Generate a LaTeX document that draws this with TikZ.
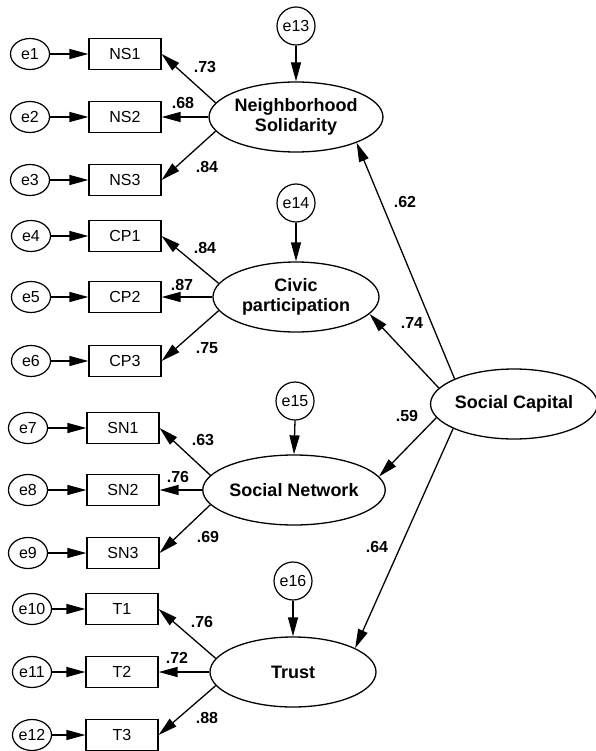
\documentclass[tikz,border=0pt]{standalone}
\usepackage{fontspec}
\setmainfont{Liberation Sans}
\usetikzlibrary{shapes.geometric,arrows.meta}

\tikzset{
  obs/.style={draw, rectangle, line width=1.2pt, minimum width=72pt, minimum height=31pt,
              inner sep=0pt, font=\fontsize{16}{19}\selectfont},
  errl/.style={draw, ellipse, line width=1.2pt, minimum width=39pt, minimum height=31pt,
               inner sep=0pt, font=\fontsize{16}{19}\selectfont},
  errt/.style={draw, circle, line width=1.2pt, minimum size=38pt,
               inner sep=0pt, font=\fontsize{16}{19}\selectfont},
  lat/.style={draw, ellipse, line width=1.3pt, minimum width=166pt, minimum height=70pt,
              inner sep=0pt, align=center, font=\fontsize{18}{20}\selectfont\bfseries},
  coef/.style={font=\fontsize{16}{19}\selectfont\bfseries, inner sep=0pt},
  arr/.style={line width=1.3pt, -{Triangle[length=19pt,width=10pt]}}
}

\begin{document}
\begin{tikzpicture}[x=1pt, y=-1pt]
\useasboundingbox (0,0) rectangle (595,751);

% latent factors
\node[lat] (NSol) at (296,117) {Neighborhood\\Solidarity};
\node[lat] (CivP) at (296,297) {Civic\\participation};
\node[lat] (SNet) at (294,490) {Social Network};
\node[lat] (Tru)  at (293,672) {Trust};
\node[lat] (SCap) at (514,404) {Social Capital};

% disturbance terms
\node[errt] (e13) at (296,26)  {e13};
\node[errt] (e14) at (296,203) {e14};
\node[errt] (e15) at (295,401) {e15};
\node[errt] (e16) at (293,581) {e16};

% indicators
\node[obs] (NS1) at (125,54)  {NS1};
\node[obs] (NS2) at (125,117) {NS2};
\node[obs] (NS3) at (125,180) {NS3};
\node[obs] (CP1) at (125,236) {CP1};
\node[obs] (CP2) at (125,297) {CP2};
\node[obs] (CP3) at (125,361) {CP3};
\node[obs] (SN1) at (123,428) {SN1};
\node[obs] (SN2) at (123,490) {SN2};
\node[obs] (SN3) at (123,553) {SN3};
\node[obs] (T1)  at (122,609) {T1};
\node[obs] (T2)  at (122,672) {T2};
\node[obs] (T3)  at (122,735) {T3};

% measurement errors
\node[errl] (e1)  at (30,54)  {e1};
\node[errl] (e2)  at (30,117) {e2};
\node[errl] (e3)  at (30,180) {e3};
\node[errl] (e4)  at (31,236) {e4};
\node[errl] (e5)  at (31,297) {e5};
\node[errl] (e6)  at (31,361) {e6};
\node[errl] (e7)  at (28,428) {e7};
\node[errl] (e8)  at (28,490) {e8};
\node[errl] (e9)  at (28,553) {e9};
\node[errl] (e10) at (32,609) {e10};
\node[errl] (e11) at (32,672) {e11};
\node[errl] (e12) at (32,735) {e12};

% error -> indicator
\foreach \e/\b in {e1/NS1,e2/NS2,e3/NS3,e4/CP1,e5/CP2,e6/CP3,
                   e7/SN1,e8/SN2,e9/SN3,e10/T1,e11/T2,e12/T3}
  \draw[arr] (\e.east) -- (\b.west);

% disturbance -> factor
\foreach \e/\f in {e13/NSol,e14/CivP,e15/SNet,e16/Tru}
  \draw[arr] (\e.south) -- (\f.north);

% loadings
\foreach \f/\a/\b/\c in {NSol/NS1/NS2/NS3,CivP/CP1/CP2/CP3,SNet/SN1/SN2/SN3,Tru/T1/T2/T3}{
  \draw[arr] (\f.170) -- (\a.east);
  \draw[arr] (\f.west) -- (\b.east);
  \draw[arr] (\f.190) -- (\c.east);
}

% second-order paths
\draw[arr] (SCap.157.5) -- (NSol.337);
\draw[arr] (SCap.168)   -- (CivP.347);
\draw[arr] (SCap.190.5) -- (SNet.9);
\draw[arr] (SCap.202)   -- (Tru.21);

% coefficients
\node[coef] (c1)  at (205,67)  {.73};
\node[coef] (c2)  at (183,103) {.68};
\node[coef] (c3)  at (207,167) {.84};
\node[coef] (c4)  at (205,248) {.84};
\node[coef] (c5)  at (182,285) {.87};
\node[coef] (c6)  at (207,348) {.75};
\node[coef] (c7)  at (203,440) {.63};
\node[coef] (c8)  at (178,477) {.76};
\node[coef] (c9)  at (208,537) {.69};
\node[coef] (c10) at (202,622) {.76};
\node[coef] (c11) at (177,658) {.72};
\node[coef] (c12) at (207,718) {.88};
\node[coef] (c13) at (405,202) {.62};
\node[coef] (c14) at (412,323) {.74};
\node[coef] (c15) at (407,416) {.59};
\node[coef] (c16) at (377,547) {.64};
\end{tikzpicture}
\end{document}
